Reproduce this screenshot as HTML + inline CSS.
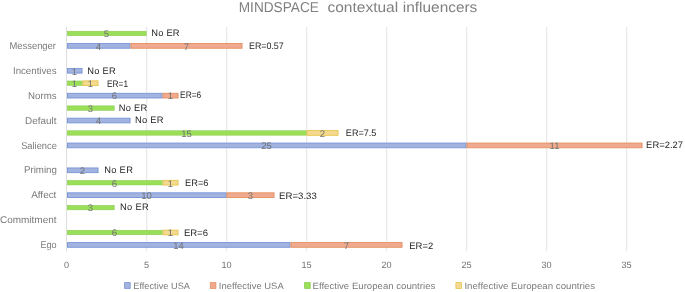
<!DOCTYPE html>
<html><head><meta charset="utf-8"><style>
html,body{margin:0;padding:0;background:#fff;}
svg{display:block;font-family:"Liberation Sans",sans-serif;will-change:transform;text-rendering:geometricPrecision;}
</style></head><body>
<svg width="685" height="292" viewBox="0 0 685 292">
<rect width="685" height="292" fill="#fff"/>
<line x1="146.65" y1="26.8" x2="146.65" y2="251.3" stroke="#E8E8E8" stroke-width="1.2"/>
<line x1="226.65" y1="26.8" x2="226.65" y2="251.3" stroke="#E8E8E8" stroke-width="1.2"/>
<line x1="306.65" y1="26.8" x2="306.65" y2="251.3" stroke="#E8E8E8" stroke-width="1.2"/>
<line x1="386.65" y1="26.8" x2="386.65" y2="251.3" stroke="#E8E8E8" stroke-width="1.2"/>
<line x1="466.65" y1="26.8" x2="466.65" y2="251.3" stroke="#E8E8E8" stroke-width="1.2"/>
<line x1="546.65" y1="26.8" x2="546.65" y2="251.3" stroke="#E8E8E8" stroke-width="1.2"/>
<line x1="626.65" y1="26.8" x2="626.65" y2="251.3" stroke="#E8E8E8" stroke-width="1.2"/>
<line x1="66.5" y1="26.8" x2="66.5" y2="251.3" stroke="#DEDEDE" stroke-width="1"/>
<rect x="67.300" y="31.250" width="78.900" height="4.400" fill="#9ADF58" stroke="#8CCB52" stroke-width="0.6"/>
<rect x="67.450" y="43.540" width="62.600" height="4.700" fill="#A2B3DF" stroke="#7795D8" stroke-width="0.9"/>
<rect x="130.950" y="43.540" width="111.100" height="4.700" fill="#EFAA90" stroke="#E4905F" stroke-width="0.9"/>
<rect x="67.450" y="68.420" width="14.600" height="4.700" fill="#A2B3DF" stroke="#7795D8" stroke-width="0.9"/>
<rect x="67.300" y="81.010" width="14.900" height="4.400" fill="#9ADF58" stroke="#8CCB52" stroke-width="0.6"/>
<rect x="82.950" y="80.860" width="15.100" height="4.700" fill="#F4DA90" stroke="#E6C44C" stroke-width="0.9"/>
<rect x="67.450" y="93.300" width="94.600" height="4.700" fill="#A2B3DF" stroke="#7795D8" stroke-width="0.9"/>
<rect x="162.950" y="93.300" width="15.100" height="4.700" fill="#EFAA90" stroke="#E4905F" stroke-width="0.9"/>
<rect x="67.300" y="105.890" width="46.900" height="4.400" fill="#9ADF58" stroke="#8CCB52" stroke-width="0.6"/>
<rect x="67.450" y="118.180" width="62.600" height="4.700" fill="#A2B3DF" stroke="#7795D8" stroke-width="0.9"/>
<rect x="67.300" y="130.770" width="238.900" height="4.400" fill="#9ADF58" stroke="#8CCB52" stroke-width="0.6"/>
<rect x="306.950" y="130.620" width="31.100" height="4.700" fill="#F4DA90" stroke="#E6C44C" stroke-width="0.9"/>
<rect x="67.450" y="143.060" width="398.600" height="4.700" fill="#A2B3DF" stroke="#7795D8" stroke-width="0.9"/>
<rect x="466.950" y="143.060" width="175.100" height="4.700" fill="#EFAA90" stroke="#E4905F" stroke-width="0.9"/>
<rect x="67.450" y="167.940" width="30.600" height="4.700" fill="#A2B3DF" stroke="#7795D8" stroke-width="0.9"/>
<rect x="67.300" y="180.530" width="94.900" height="4.400" fill="#9ADF58" stroke="#8CCB52" stroke-width="0.6"/>
<rect x="162.950" y="180.380" width="15.100" height="4.700" fill="#F4DA90" stroke="#E6C44C" stroke-width="0.9"/>
<rect x="67.450" y="192.820" width="158.600" height="4.700" fill="#A2B3DF" stroke="#7795D8" stroke-width="0.9"/>
<rect x="226.950" y="192.820" width="47.100" height="4.700" fill="#EFAA90" stroke="#E4905F" stroke-width="0.9"/>
<rect x="67.300" y="205.410" width="46.900" height="4.400" fill="#9ADF58" stroke="#8CCB52" stroke-width="0.6"/>
<rect x="67.300" y="230.290" width="94.900" height="4.400" fill="#9ADF58" stroke="#8CCB52" stroke-width="0.6"/>
<rect x="162.950" y="230.140" width="15.100" height="4.700" fill="#F4DA90" stroke="#E6C44C" stroke-width="0.9"/>
<rect x="67.450" y="242.580" width="222.600" height="4.700" fill="#A2B3DF" stroke="#7795D8" stroke-width="0.9"/>
<rect x="290.950" y="242.580" width="111.100" height="4.700" fill="#EFAA90" stroke="#E4905F" stroke-width="0.9"/>
<text x="106.50" y="37.25" text-anchor="middle" font-size="9.5" fill="#727272">5</text>
<text x="98.50" y="49.69" text-anchor="middle" font-size="9.5" fill="#727272">4</text>
<text x="186.50" y="49.69" text-anchor="middle" font-size="9.5" fill="#727272">7</text>
<text x="74.50" y="74.57" text-anchor="middle" font-size="9.5" fill="#727272">1</text>
<text x="74.50" y="87.01" text-anchor="middle" font-size="9.5" fill="#727272">1</text>
<text x="90.50" y="87.01" text-anchor="middle" font-size="9.5" fill="#727272">1</text>
<text x="114.50" y="99.45" text-anchor="middle" font-size="9.5" fill="#727272">6</text>
<text x="170.50" y="99.45" text-anchor="middle" font-size="9.5" fill="#727272">1</text>
<text x="90.50" y="111.89" text-anchor="middle" font-size="9.5" fill="#727272">3</text>
<text x="98.50" y="124.33" text-anchor="middle" font-size="9.5" fill="#727272">4</text>
<text x="186.50" y="136.77" text-anchor="middle" font-size="9.5" fill="#727272">15</text>
<text x="322.50" y="136.77" text-anchor="middle" font-size="9.5" fill="#727272">2</text>
<text x="266.50" y="149.21" text-anchor="middle" font-size="9.5" fill="#727272">25</text>
<text x="554.50" y="149.21" text-anchor="middle" font-size="9.5" fill="#727272">11</text>
<text x="82.50" y="174.09" text-anchor="middle" font-size="9.5" fill="#727272">2</text>
<text x="114.50" y="186.53" text-anchor="middle" font-size="9.5" fill="#727272">6</text>
<text x="170.50" y="186.53" text-anchor="middle" font-size="9.5" fill="#727272">1</text>
<text x="146.50" y="198.97" text-anchor="middle" font-size="9.5" fill="#727272">10</text>
<text x="250.50" y="198.97" text-anchor="middle" font-size="9.5" fill="#727272">3</text>
<text x="90.50" y="211.41" text-anchor="middle" font-size="9.5" fill="#727272">3</text>
<text x="114.50" y="236.29" text-anchor="middle" font-size="9.5" fill="#727272">6</text>
<text x="170.50" y="236.29" text-anchor="middle" font-size="9.5" fill="#727272">1</text>
<text x="178.50" y="248.73" text-anchor="middle" font-size="9.5" fill="#727272">14</text>
<text x="346.50" y="248.73" text-anchor="middle" font-size="9.5" fill="#727272">7</text>
<text x="66.60" y="267.7" text-anchor="middle" font-size="9.1" fill="#737373">0</text>
<text x="146.60" y="267.7" text-anchor="middle" font-size="9.1" fill="#737373">5</text>
<text x="226.60" y="267.7" text-anchor="middle" font-size="9.1" fill="#737373">10</text>
<text x="306.60" y="267.7" text-anchor="middle" font-size="9.1" fill="#737373">15</text>
<text x="386.60" y="267.7" text-anchor="middle" font-size="9.1" fill="#737373">20</text>
<text x="466.60" y="267.7" text-anchor="middle" font-size="9.1" fill="#737373">25</text>
<text x="546.60" y="267.7" text-anchor="middle" font-size="9.1" fill="#737373">30</text>
<text x="626.60" y="267.7" text-anchor="middle" font-size="9.1" fill="#737373">35</text>
<rect x="124.60" y="282.6" width="5.6" height="5.8" fill="#A2B3DF" stroke="#7795D8" stroke-width="0.8"/>
<rect x="210.30" y="282.6" width="5.6" height="5.8" fill="#EFAA90" stroke="#E4905F" stroke-width="0.8"/>
<rect x="304.60" y="282.6" width="5.6" height="5.8" fill="#9ADF58" stroke="#8CCB52" stroke-width="0.8"/>
<rect x="455.90" y="282.6" width="5.6" height="5.8" fill="#F4DA90" stroke="#E6C44C" stroke-width="0.8"/>
<text x="238.75" y="11.80" font-size="14.3" fill="#808080" textLength="80.13" lengthAdjust="spacingAndGlyphs" xml:space="preserve">MINDSPACE</text>
<text x="327.46" y="11.80" font-size="14.3" fill="#808080" textLength="70.76" lengthAdjust="spacingAndGlyphs" xml:space="preserve">contextual</text>
<text x="402.82" y="11.80" font-size="14.3" fill="#808080" textLength="74.50" lengthAdjust="spacingAndGlyphs" xml:space="preserve">influencers</text>
<text x="9.48" y="48.80" font-size="9.8" fill="#7A7A7A" textLength="46.49" lengthAdjust="spacingAndGlyphs" xml:space="preserve">Messenger</text>
<text x="12.96" y="73.70" font-size="9.8" fill="#7A7A7A" textLength="43.61" lengthAdjust="spacingAndGlyphs" xml:space="preserve">Incentives</text>
<text x="28.06" y="98.50" font-size="9.8" fill="#7A7A7A" textLength="28.50" lengthAdjust="spacingAndGlyphs" xml:space="preserve">Norms</text>
<text x="25.14" y="123.60" font-size="9.8" fill="#7A7A7A" textLength="31.41" lengthAdjust="spacingAndGlyphs" xml:space="preserve">Default</text>
<text x="21.13" y="148.60" font-size="9.8" fill="#7A7A7A" textLength="35.70" lengthAdjust="spacingAndGlyphs" xml:space="preserve">Salience</text>
<text x="23.95" y="173.20" font-size="9.8" fill="#7A7A7A" textLength="33.01" lengthAdjust="spacingAndGlyphs" xml:space="preserve">Priming</text>
<text x="31.20" y="198.20" font-size="9.8" fill="#7A7A7A" textLength="25.17" lengthAdjust="spacingAndGlyphs" xml:space="preserve">Affect</text>
<text x="-0.01" y="223.20" font-size="9.8" fill="#7A7A7A" textLength="56.54" lengthAdjust="spacingAndGlyphs" xml:space="preserve">Commitment</text>
<text x="40.50" y="247.90" font-size="9.8" fill="#7A7A7A" textLength="16.17" lengthAdjust="spacingAndGlyphs" xml:space="preserve">Ego</text>
<text x="151.35" y="35.90" font-size="9.3" fill="#262626" textLength="28.20" lengthAdjust="spacing" xml:space="preserve">No ER</text>
<text x="248.99" y="49.10" font-size="9.3" fill="#262626" textLength="34.75" lengthAdjust="spacingAndGlyphs" xml:space="preserve">ER=0.57</text>
<text x="87.15" y="73.70" font-size="9.3" fill="#262626" textLength="28.45" lengthAdjust="spacing" xml:space="preserve">No ER</text>
<text x="107.03" y="86.90" font-size="9.3" fill="#262626" textLength="21.01" lengthAdjust="spacingAndGlyphs" xml:space="preserve">ER=1</text>
<text x="180.07" y="97.80" font-size="9.3" fill="#262626" textLength="21.16" lengthAdjust="spacingAndGlyphs" xml:space="preserve">ER=6</text>
<text x="118.65" y="110.90" font-size="9.3" fill="#262626" textLength="28.58" lengthAdjust="spacing" xml:space="preserve">No ER</text>
<text x="134.95" y="123.30" font-size="9.3" fill="#262626" textLength="28.45" lengthAdjust="spacing" xml:space="preserve">No ER</text>
<text x="345.87" y="135.70" font-size="9.3" fill="#262626" textLength="30.51" lengthAdjust="spacingAndGlyphs" xml:space="preserve">ER=7.5</text>
<text x="646.14" y="148.00" font-size="9.3" fill="#262626" textLength="36.82" lengthAdjust="spacingAndGlyphs" xml:space="preserve">ER=2.27</text>
<text x="104.15" y="172.50" font-size="9.3" fill="#262626" textLength="28.70" lengthAdjust="spacing" xml:space="preserve">No ER</text>
<text x="185.05" y="185.70" font-size="9.3" fill="#262626" textLength="23.41" lengthAdjust="spacingAndGlyphs" xml:space="preserve">ER=6</text>
<text x="279.13" y="198.60" font-size="9.3" fill="#262626" textLength="37.64" lengthAdjust="spacingAndGlyphs" xml:space="preserve">ER=3.33</text>
<text x="120.05" y="210.00" font-size="9.3" fill="#262626" textLength="28.58" lengthAdjust="spacing" xml:space="preserve">No ER</text>
<text x="183.93" y="235.70" font-size="9.3" fill="#262626" textLength="24.04" lengthAdjust="spacingAndGlyphs" xml:space="preserve">ER=6</text>
<text x="409.24" y="248.70" font-size="9.3" fill="#262626" textLength="23.93" lengthAdjust="spacingAndGlyphs" xml:space="preserve">ER=2</text>
<text x="133.25" y="288.60" font-size="9.2" fill="#7A7A7A" textLength="56.77" lengthAdjust="spacingAndGlyphs" xml:space="preserve">Effective USA</text>
<text x="218.83" y="288.60" font-size="9.2" fill="#7A7A7A" textLength="64.87" lengthAdjust="spacingAndGlyphs" xml:space="preserve">Ineffective USA</text>
<text x="312.51" y="288.60" font-size="9.2" fill="#7A7A7A" textLength="122.81" lengthAdjust="spacingAndGlyphs" xml:space="preserve">Effective European countries</text>
<text x="464.41" y="288.60" font-size="9.2" fill="#7A7A7A" textLength="130.71" lengthAdjust="spacingAndGlyphs" xml:space="preserve">Ineffective European countries</text>
</svg>
</body></html>
